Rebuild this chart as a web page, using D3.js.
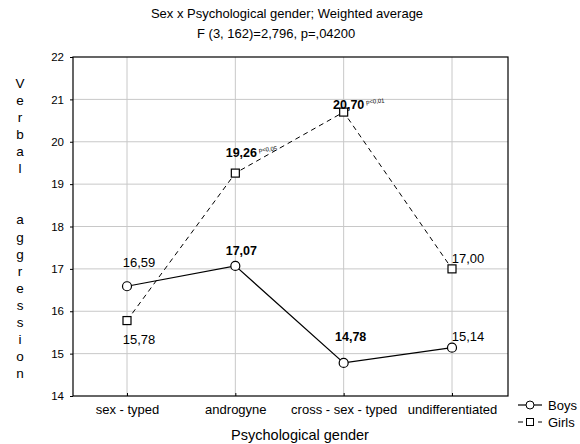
<!DOCTYPE html>
<html>
<head>
<meta charset="utf-8">
<script src="https://cdn.jsdelivr.net/npm/d3@7"></script>
<style>
  body { margin: 0; background: #fff; }
  svg { font-family: "Liberation Sans", Arial, sans-serif; }
</style>
</head>
<body>
<svg id="chart" width="580" height="444"></svg>
<script>
// data
const categories = ["sex - typed", "androgyne", "cross - sex - typed", "undifferentiated"];
const boys = [16.59, 17.07, 14.78, 15.14];
const girls = [15.78, 19.26, 20.70, 17.00];
const boysBold = [false, true, true, false];
const girlsBold = [false, true, true, false];
const girlsNote = ["", "p<0,05", "p<0,01", ""];
const yTicks = [14, 15, 16, 17, 18, 19, 20, 21, 22];

const svg = d3.select("#chart");
const plotL = 73, plotR = 508, plotT = 57, plotB = 396;

const x = d3.scalePoint().domain(categories).range([127, 452]);
const y = d3.scaleLinear().domain([14, 22]).range([plotB, plotT]);

/* grid */
svg.append("g").selectAll("line").data(yTicks.slice(1, -1)).join("line")
  .attr("x1", plotL).attr("x2", plotR)
  .attr("y1", d => y(d)).attr("y2", d => y(d))
  .attr("stroke", "#c8c8c8").attr("stroke-width", 1);
svg.append("g").selectAll("line").data(categories).join("line")
  .attr("x1", d => x(d)).attr("x2", d => x(d))
  .attr("y1", plotT).attr("y2", plotB)
  .attr("stroke", "#c8c8c8").attr("stroke-width", 1);

svg.append("rect")
  .attr("x", plotL).attr("y", plotT)
  .attr("width", plotR - plotL).attr("height", plotB - plotT)
  .attr("fill", "none").attr("stroke", "#000").attr("stroke-width", 1.2);

/* axes */
const yAxis = svg.append("g")
  .attr("transform", `translate(${plotL},0)`)
  .call(d3.axisLeft(y).tickValues(yTicks).tickSize(3).tickFormat(d3.format("d")));
yAxis.select(".domain").remove();
yAxis.selectAll("text").attr("font-size", 11.5).attr("fill", "#000").attr("x", -9)
  .style("font-family", "Liberation Sans, Arial, sans-serif");

const xAxis = svg.append("g")
  .attr("transform", `translate(0,${plotB})`)
  .call(d3.axisBottom(x).tickSize(-3));
xAxis.select(".domain").remove();
xAxis.selectAll("text").attr("font-size", 13).attr("fill", "#000").attr("y", 9)
  .style("font-family", "Liberation Sans, Arial, sans-serif");

/* titles */
svg.append("text").attr("x", 287).attr("y", 18).attr("text-anchor", "middle")
  .attr("font-size", 13).text("Sex x Psychological gender; Weighted average");
svg.append("text").attr("x", 197).attr("y", 38)
  .attr("font-size", 13).text("F (3, 162)=2,796, p=,04200");
svg.append("text").attr("x", 300).attr("y", 440).attr("text-anchor", "middle")
  .attr("font-size", 14.5).text("Psychological gender");

const ylab = "Verbal  aggression".split("");
svg.append("g").selectAll("text").data(ylab).join("text")
  .attr("x", 20).attr("y", (d, i) => 88 + i * 17.06)
  .attr("text-anchor", "middle").attr("font-size", 13.5)
  .text(d => d);

/* lines */
const line = d3.line().x((d, i) => x(categories[i])).y(d => y(d));
svg.append("path").datum(girls).attr("d", line)
  .attr("fill", "none").attr("stroke", "#000").attr("stroke-width", 1)
  .attr("stroke-dasharray", "5,4");
svg.append("path").datum(boys).attr("d", line)
  .attr("fill", "none").attr("stroke", "#000").attr("stroke-width", 1.2);

svg.append("g").selectAll("circle").data(boys).join("circle")
  .attr("cx", (d, i) => x(categories[i])).attr("cy", d => y(d)).attr("r", 4.5)
  .attr("fill", "#fff").attr("stroke", "#000").attr("stroke-width", 1.2);
svg.append("g").selectAll("rect").data(girls).join("rect")
  .attr("x", (d, i) => x(categories[i]) - 4).attr("y", d => y(d) - 4)
  .attr("width", 8).attr("height", 8)
  .attr("fill", "#fff").attr("stroke", "#000").attr("stroke-width", 1.2);

/* value labels */
const fmt = v => v.toFixed(2).replace(".", ",");
const boysOff = [[12, -19], [6, -11], [7, -22], [16, -7]];
const girlsOff = [[12, 23], [6, -16], [5, -3], [16, -6]];

svg.append("g").selectAll("text").data(boys).join("text")
  .attr("x", (d, i) => x(categories[i]) + boysOff[i][0])
  .attr("y", (d, i) => y(d) + boysOff[i][1])
  .attr("text-anchor", "middle")
  .attr("font-size", (d, i) => boysBold[i] ? 12.5 : 13)
  .attr("font-weight", (d, i) => boysBold[i] ? "bold" : "normal")
  .text(fmt);

const gl = svg.append("g").selectAll("g").data(girls).join("g")
  .attr("transform", (d, i) => `translate(${x(categories[i]) + girlsOff[i][0]},${y(d) + girlsOff[i][1]})`);
gl.append("text")
  .attr("text-anchor", "middle")
  .attr("font-size", (d, i) => girlsBold[i] ? 12.5 : 13)
  .attr("font-weight", (d, i) => girlsBold[i] ? "bold" : "normal")
  .text(fmt);
gl.append("text")
  .attr("x", 18).attr("y", -3).attr("font-size", 6).attr("fill", "#000")
  .attr("transform", "rotate(-6)")
  .text((d, i) => girlsNote[i]);

/* legend */
const lg = svg.append("g").attr("transform", "translate(518,405)");
lg.append("line").attr("x1", 0).attr("x2", 24).attr("y1", 0).attr("y2", 0)
  .attr("stroke", "#000").attr("stroke-width", 1.2);
lg.append("circle").attr("cx", 12).attr("cy", 0).attr("r", 4)
  .attr("fill", "#fff").attr("stroke", "#000");
lg.append("text").attr("x", 30).attr("y", 5).attr("font-size", 13).text("Boys");
lg.append("line").attr("x1", 0).attr("x2", 24).attr("y1", 17).attr("y2", 17)
  .attr("stroke", "#000").attr("stroke-dasharray", "5,15");
lg.append("rect").attr("x", 8.5).attr("y", 13.5).attr("width", 7).attr("height", 7)
  .attr("fill", "#fff").attr("stroke", "#000");
lg.append("text").attr("x", 30).attr("y", 22).attr("font-size", 13).text("Girls");
</script>
</body>
</html>
